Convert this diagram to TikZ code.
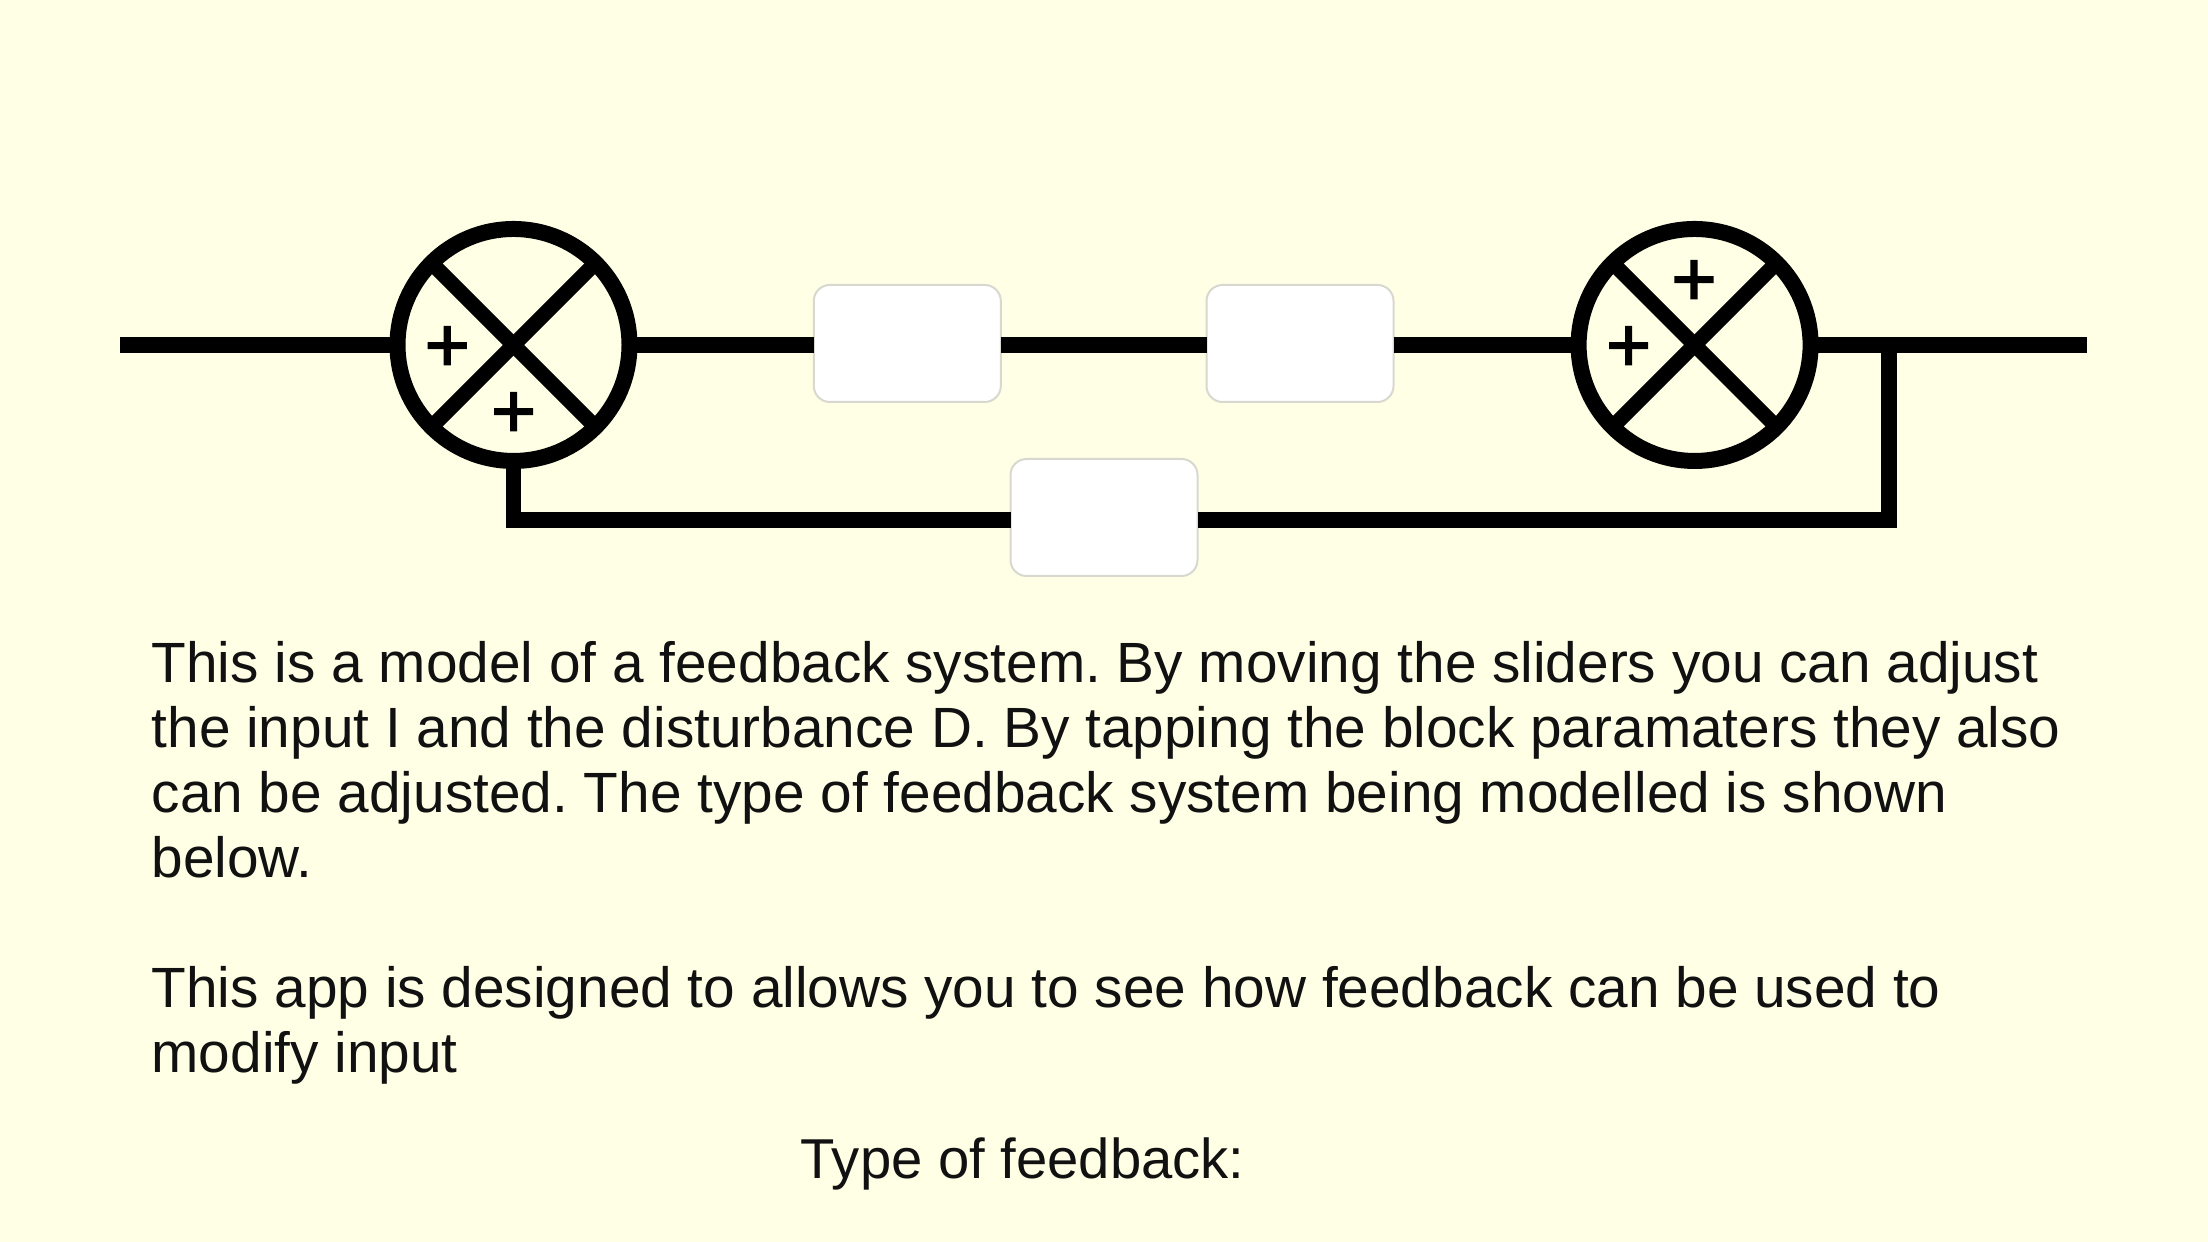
\documentclass[tikz,border=0pt]{standalone}
\usepackage{fontspec}
\setmainfont{Liberation Sans}
\newfontfamily\signfont[FakeBold=2]{Liberation Sans}
\definecolor{paper}{HTML}{FFFFE6}
\definecolor{blockedge}{HTML}{D8D8D0}
\definecolor{inktext}{HTML}{111111}
\tikzset{
  wire/.style={line width=0.155cm, black},
  sumnode/.style={circle, draw=black, line width=0.16cm, minimum size=2.32cm, inner sep=0pt, outer sep=0pt},
  block/.style={draw=blockedge, fill=white, line width=0.02cm, rounded corners=0.16cm, minimum width=1.87cm, minimum height=1.17cm, inner sep=0pt, outer sep=0pt},
  signmark/.style={inner sep=0pt, font=\fontsize{22pt}{22pt}\signfont},
  bodytext/.style={inner sep=0pt, anchor=north west, align=left, text=inktext, font=\fontsize{16.15pt}{18.5pt}\selectfont\frenchspacing}
}
\begin{document}
\begin{tikzpicture}
  \useasboundingbox[fill=paper] (0,0) rectangle (22.08,12.42);
  % summing junctions
  \node[sumnode] (sumA) at (5.135,8.97) {};
  \node[sumnode] (sumB) at (16.946,8.97) {};
  \draw[line width=0.15cm] (sumA.45) -- (sumA.225);
  \draw[line width=0.15cm] (sumA.135) -- (sumA.315);
  \draw[line width=0.15cm] (sumB.45) -- (sumB.225);
  \draw[line width=0.15cm] (sumB.135) -- (sumB.315);
  \node[signmark] (plusAl) at (4.473,8.93) {+};
  \node[signmark] (plusAb) at (5.137,8.27) {+};
  \node[signmark] (plusBl) at (16.286,8.93) {+};
  \node[signmark] (plusBt) at (16.94,9.59) {+};
  % blocks
  \node[block] (blkA) at (9.073,8.985) {};
  \node[block] (blkB) at (13.0,8.985) {};
  \node[block] (fbk) at (11.04,7.245) {};
  % wires
  \coordinate (inL) at (1.2,8.97);
  \coordinate (outR) at (20.87,8.97);
  \coordinate (tap) at (18.89,8.97);
  \coordinate (cnrA) at (5.135,7.22);
  \coordinate (cnrB) at (18.89,7.22);
  \draw[wire] (inL) -- (sumA.west);
  \draw[wire] (sumA.east) -- (sumA.east -| blkA.west);
  \draw[wire] (blkA.east |- sumA) -- (blkB.west |- sumA);
  \draw[wire] (blkB.east |- sumA) -- (sumB.west);
  \draw[wire] (sumB.east) -- (outR);
  \draw[wire] (sumA.south) -- (cnrA) -- (cnrA -| fbk.west);
  \draw[wire] (cnrA -| fbk.east) -- (cnrB) -- (tap);
  % text
  \node[bodytext] (introText) at (1.51,6.01) {This is a model of a feedback system. By moving the sliders you can adjust\\the input I and the disturbance D. By tapping the block paramaters they also\\can be adjusted. The type of feedback system being modelled is shown\\below.};
  \node[bodytext] (aimText) at (1.51,2.765) {This app is designed to allows you to see how feedback can be used to\\modify input};
  \node[bodytext, font=\fontsize{16pt}{18.5pt}\selectfont] (typeText) at (8.0,1.045) {Type of feedback:};
\end{tikzpicture}
\end{document}
